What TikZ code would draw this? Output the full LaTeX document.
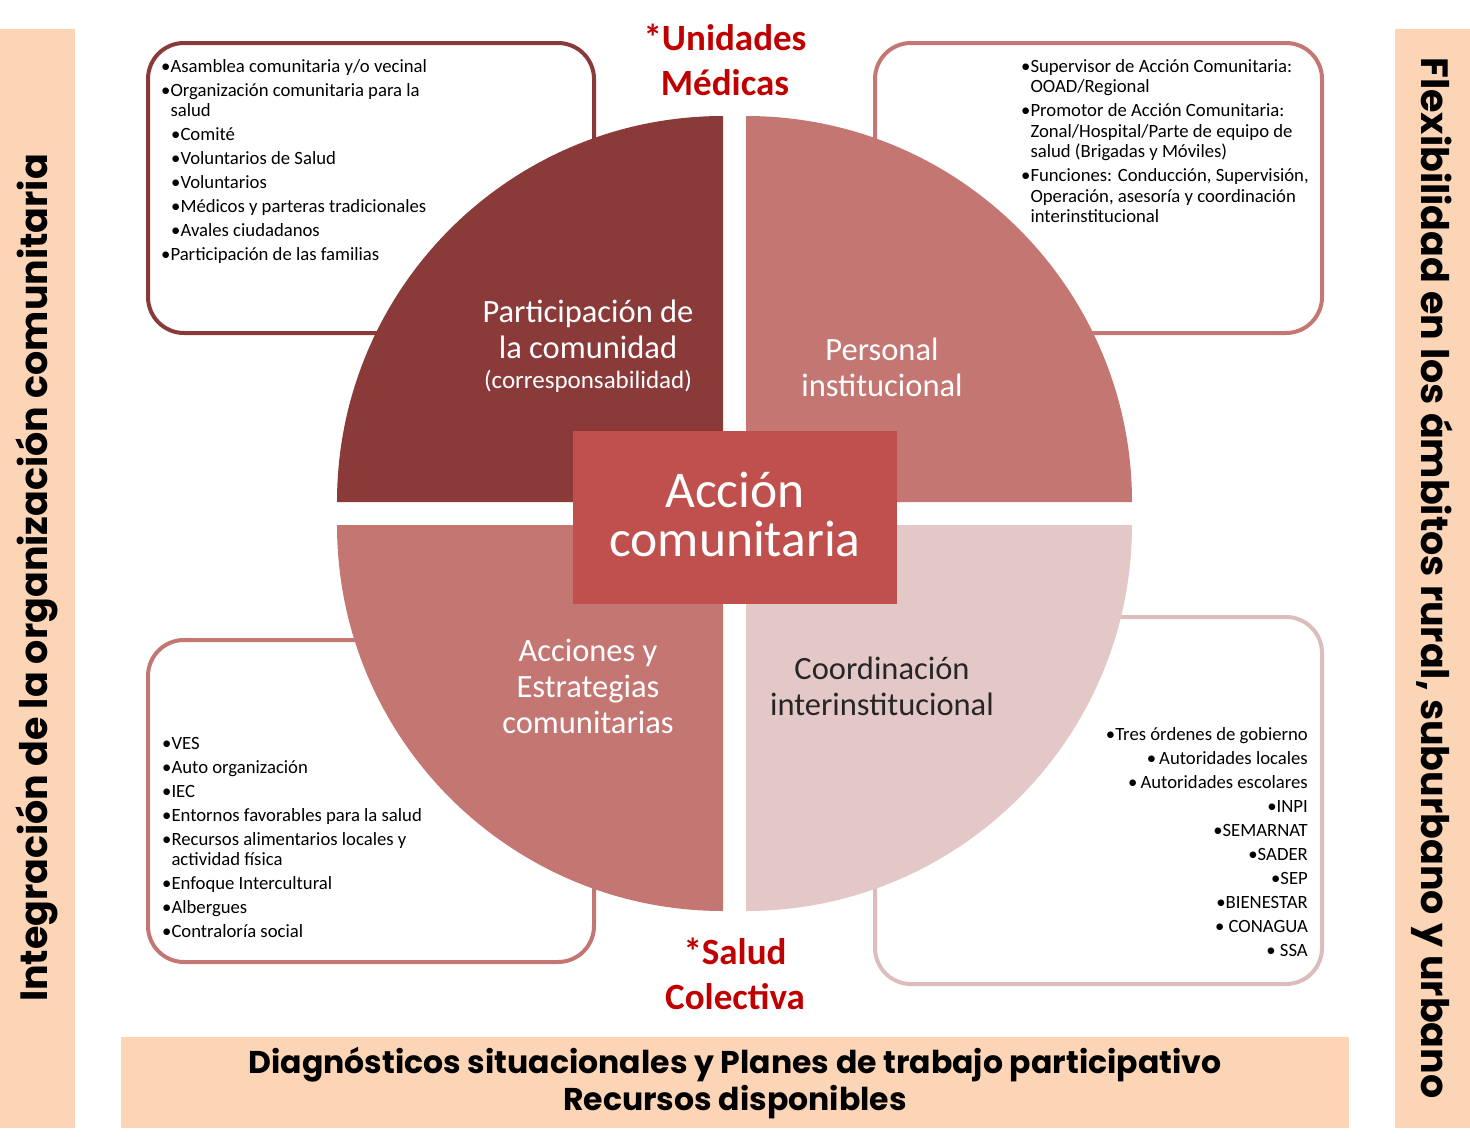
\documentclass[tikz,border=0pt]{standalone}
\usepackage{fontspec}
\setmainfont{Carlito}
\newfontfamily\bandfont{Poppins}
\definecolor{peach}{HTML}{FBD5B5}
\definecolor{qdark}{HTML}{8B3A3A}
\definecolor{qmid}{HTML}{C47673}
\definecolor{qlight}{HTML}{E4C8C8}
\definecolor{qline}{HTML}{DCBDBD}
\definecolor{qcenter}{HTML}{C0504D}
\definecolor{tred}{HTML}{C00000}
\begin{document}
\begin{tikzpicture}[x=1pt, y=-1pt, line join=round, line cap=round,
	callout/.style={draw=#1, line width=4pt, rounded corners=36pt, fill=white},
	list/.style={inner sep=0pt, align=left, font=\fontsize{18.7}{20}\selectfont},
	quad/.style={inner sep=0pt, align=center, text=white, font=\fontsize{32.5}{36}\selectfont},
	title/.style={inner sep=0pt, align=center, text=tred, font=\bfseries\fontsize{37}{45}\selectfont},
	bandtext/.style={inner sep=0pt, align=center, font=\bandfont\bfseries\fontsize{38}{37}\selectfont}]
	\def\r{386}  % radio de los cuadrantes
	\def\cx{734.5} \def\cy{513.5}
	\def\g{11.5} % media separacion
	\useasboundingbox (0,0) rectangle (1470,1138);
	% franjas
	\fill[peach] (0,29) rectangle (75,1128);
	\fill[peach] (1395,29) rectangle (1470,1128);
	\fill[peach] (121,1037) rectangle (1349,1128);
	\node[bandtext, rotate=90] (integracion) at (37,578) {Integración de la organización comunitaria};
	\node[bandtext, rotate=-90] (flexibilidad) at (1432,578) {Flexibilidad en los ámbitos rural, suburbano y urbano};
	\node[bandtext, font=\bandfont\bfseries\fontsize{31.5}{37}\selectfont] (diagnosticos) at (735,1083) {Diagnósticos situacionales y Planes de trabajo participativo\\Recursos disponibles};
	% cuadros
	\draw[callout=qdark] (148,43) rectangle (594,333);
	\draw[callout=qmid] (875,43) rectangle (1322,333);
	\draw[callout=qmid] (148,640) rectangle (594,962);
	\draw[callout=qline] (875,617) rectangle (1322,984);
	% cuadrantes
	\fill[qdark] (\cx-\g,\cy-\g) -- ++(180:\r) arc[start angle=180, end angle=270, radius=\r] -- cycle;
	\fill[qmid] (\cx+\g,\cy-\g) -- ++(270:\r) arc[start angle=270, end angle=360, radius=\r] -- cycle;
	\fill[qmid] (\cx-\g,\cy+\g) -- ++(90:\r) arc[start angle=90, end angle=180, radius=\r] -- cycle;
	\fill[qlight] (\cx+\g,\cy+\g) -- ++(0:\r) arc[start angle=0, end angle=90, radius=\r] -- cycle;
	\node[fill=qcenter, text=white, minimum width=324pt, minimum height=173pt, align=center, text depth=6pt,
		font=\fontsize{51.5}{49}\selectfont] (accion) at (735,517.5) {Acción\\comunitaria};
	% textos de los cuadrantes
	\node[quad] (participacion) at (588,346) {Participación de\\la comunidad\\[-6pt]{\fontsize{25}{28}\selectfont(corresponsabilidad)}};
	\node[quad] (personal) at (882,367) {Personal\\institucional};
	\node[quad] (acciones) at (588,686) {Acciones y\\Estrategias\\comunitarias};
	\node[quad, text=black!85] (coordinacion) at (882,686) {Coordinación\\interinstitucional};
	\node[title] (unidades) at (725,60) {*Unidades\\Médicas};
	\node[title] (salud) at (735,974) {*Salud\\Colectiva};
	% listas
	\node[list, anchor=north west] (comunidad) at (161,59) {•Asamblea comunitaria y/o vecinal\\[4pt]
		•Organización comunitaria para la\\ \phantom{•}salud\\[4pt]
		\hspace*{10pt}•Comité\\[4pt]
		\hspace*{10pt}•Voluntarios de Salud\\[4pt]
		\hspace*{10pt}•Voluntarios\\[4pt]
		\hspace*{10pt}•Médicos y parteras tradicionales\\[4pt]
		\hspace*{10pt}•Avales ciudadanos\\[4pt]
		•Participación de las familias};
	\node[list, anchor=north west, font=\fontsize{18.7}{20.5}\selectfont] (institucional) at (1021,59) {•Supervisor de Acción Comunitaria:\\ \phantom{•}OOAD/Regional\\[3.5pt]
		•Promotor de Acción Comunitaria:\\ \phantom{•}Zonal/Hospital/Parte de equipo de\\ \phantom{•}salud (Brigadas y Móviles)\\[3.5pt]
		•Funciones: Conducción, Supervisión,\\ \phantom{•}Operación, asesoría y coordinación\\ \phantom{•}interinstitucional};
	\node[list, anchor=north west] (estrategias) at (162,737) {•VES\\[4pt]
		•Auto organización\\[4pt]
		•IEC\\[4pt]
		•Entornos favorables para la salud\\[4pt]
		•Recursos alimentarios locales y\\ \phantom{•}actividad física\\[4pt]
		•Enfoque Intercultural\\[4pt]
		•Albergues\\[4pt]
		•Contraloría social};
	\node[list, anchor=north east, align=right] (gobierno) at (1308,727) {•Tres órdenes de gobierno\\[4pt]
		•\,Autoridades locales\\[4pt]
		•\,Autoridades escolares\\[4pt]
		•INPI\\[4pt]
		•SEMARNAT\\[4pt]
		•SADER\\[4pt]
		•SEP\\[4pt]
		•BIENESTAR\\[4pt]
		• CONAGUA\\[4pt]
		• SSA};
\end{tikzpicture}
\end{document}
